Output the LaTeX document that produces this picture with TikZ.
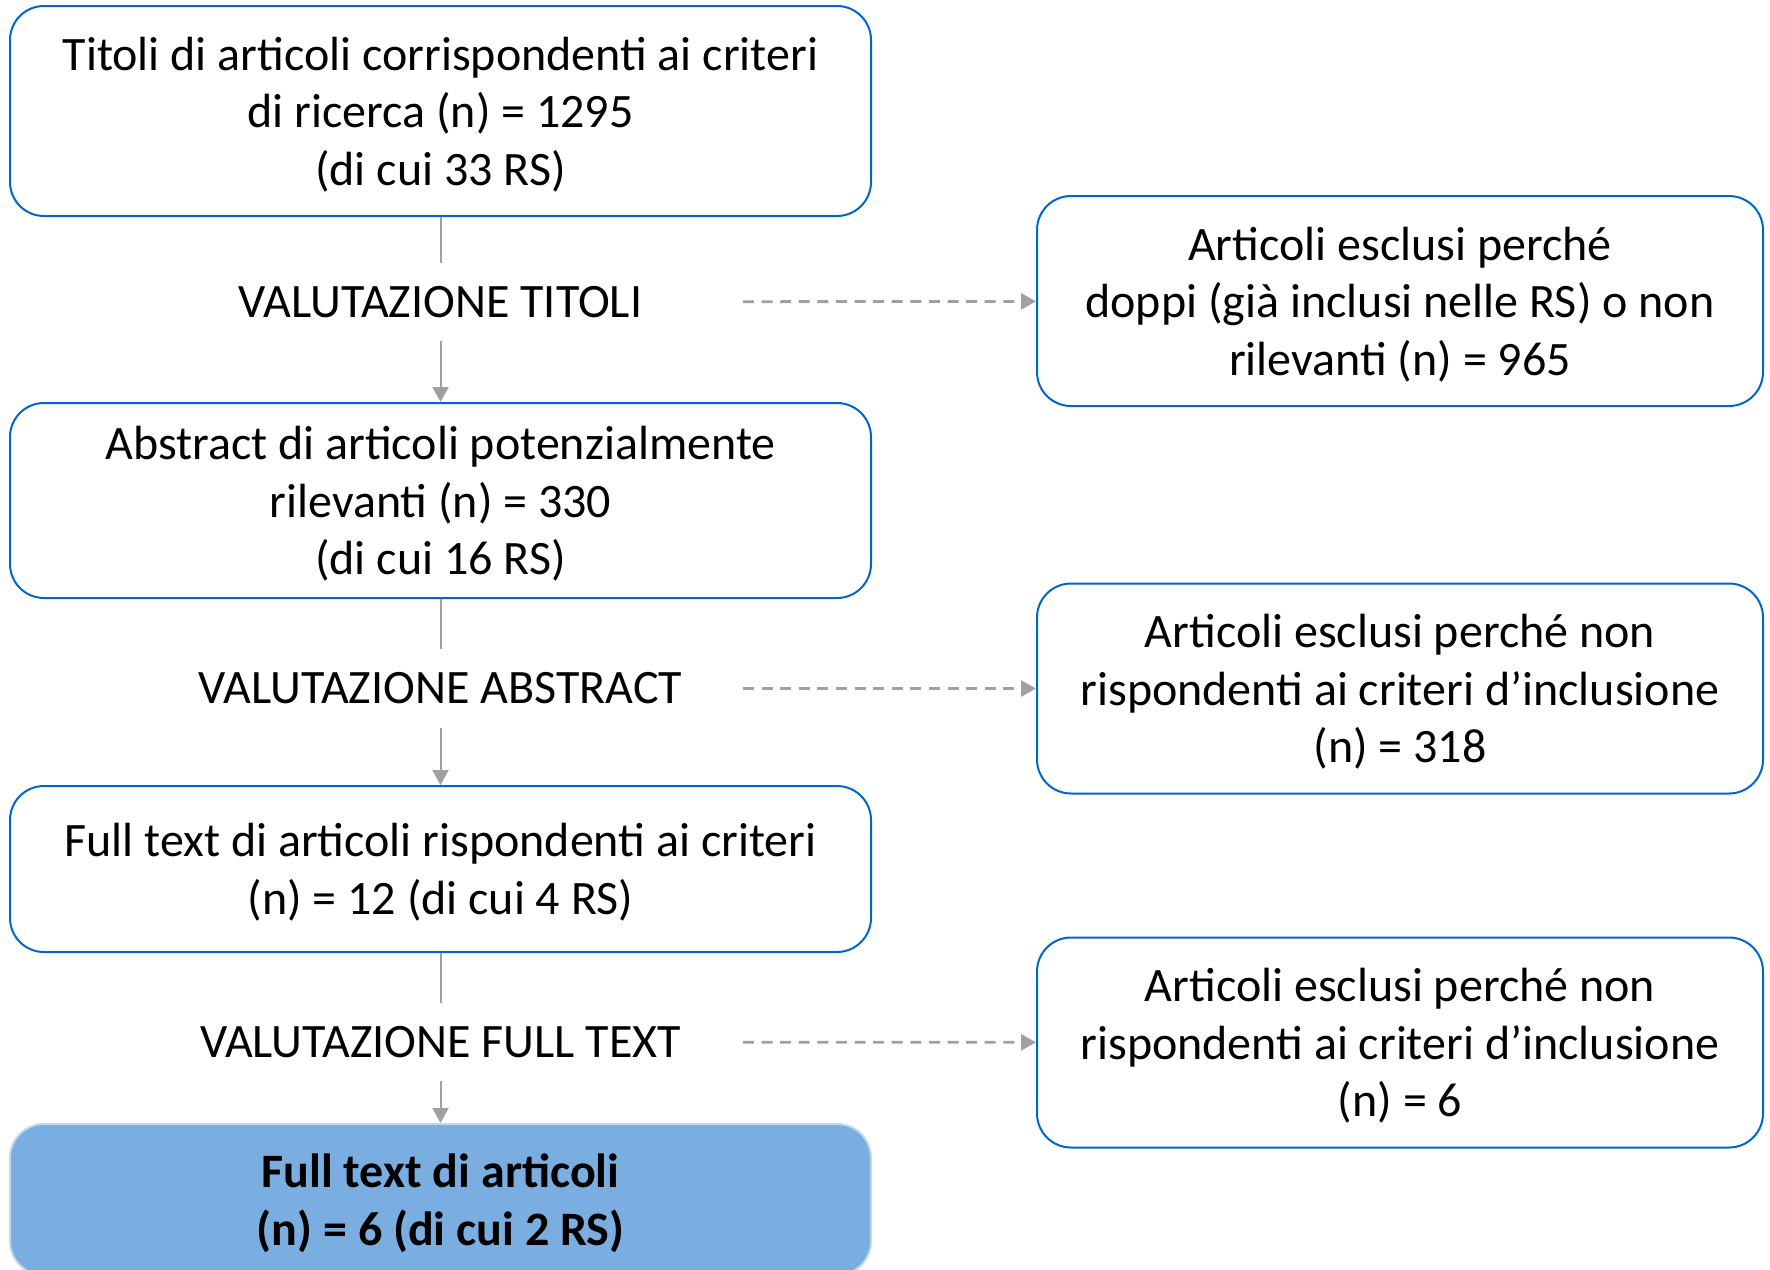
\documentclass[tikz,border=0pt]{standalone}
\usepackage{fontspec}
\setmainfont{Carlito}
\usetikzlibrary{arrows.meta}
\definecolor{boxblue}{RGB}{0,102,204}
\definecolor{finfill}{RGB}{122,174,224}
\definecolor{finedge}{RGB}{189,215,238}
\definecolor{arrgray}{RGB}{160,160,160}

\begin{document}
\begin{tikzpicture}[x=0.5pt, y=-0.5pt, >={Triangle[width=8pt,length=7.5pt]}]
        \tikzset{
            txt/.style={font=\fontsize{24}{28.8}\selectfont, align=center, text=black},
            box/.style={txt, draw=boxblue, line width=1pt, rounded corners=17pt, inner sep=0pt, text depth=0pt},
            mainbox/.style={box, minimum width=430.5pt},
            exbox/.style={box, minimum width=363pt, minimum height=105pt},
            fase/.style={txt, minimum width=302pt, minimum height=39pt, inner sep=0pt},
            flow/.style={arrgray, line width=1pt},
            skip/.style={flow, line width=1.4pt, dash pattern=on 5.5pt off 3.8pt}
        }
        \useasboundingbox (0,0) rectangle (1770,1269);

        \node[mainbox, minimum height=105pt] (tit) at (440.5,111) {Titoli di articoli corrispondenti ai criteri\\di ricerca (n) = 1295\\(di cui 33 RS)};
        \node[fase] (v1) at (440.5,302) {VALUTAZIONE TITOLI};
        \node[mainbox, minimum height=97.5pt] (abs) at (440.5,500.5) {Abstract di articoli potenzialmente\\rilevanti (n) = 330\\(di cui 16 RS)};
        \node[fase] (v2) at (440.5,688.5) {VALUTAZIONE ABSTRACT};
        \node[mainbox, minimum height=83pt] (full) at (440.5,869) {Full text di articoli rispondenti ai criteri\\(n) = 12 (di cui 4 RS)};
        \node[fase] (v3) at (440.5,1042) {VALUTAZIONE FULL TEXT};
        \node[mainbox, minimum height=75.5pt, draw=finedge, fill=finfill, font=\fontsize{24}{28.8}\selectfont\bfseries] (fin) at (440.5,1199.5) {Full text di articoli\\(n) = 6 (di cui 2 RS)};

        \node[exbox] (ex1) at (1400,301) {Articoli esclusi perché\\doppi (già inclusi nelle RS) o non\\rilevanti (n) = 965};
        \node[exbox] (ex2) at (1400,688.5) {Articoli esclusi perché non\\rispondenti ai criteri d’inclusione\\(n) = 318};
        \node[exbox] (ex3) at (1400,1042.5) {Articoli esclusi perché non\\rispondenti ai criteri d’inclusione\\(n) = 6};

        \draw[flow] (tit) -- (v1);
        \draw[flow,->] (v1) -- (abs);
        \draw[flow] (abs) -- (v2);
        \draw[flow,->] (v2) -- (full);
        \draw[flow] (full) -- (v3);
        \draw[flow,->] (v3) -- (fin);

        \draw[skip,->] (v1) -- (ex1);
        \draw[skip,->] (v2) -- (ex2);
        \draw[skip,->] (v3) -- (ex3);
\end{tikzpicture}
\end{document}
